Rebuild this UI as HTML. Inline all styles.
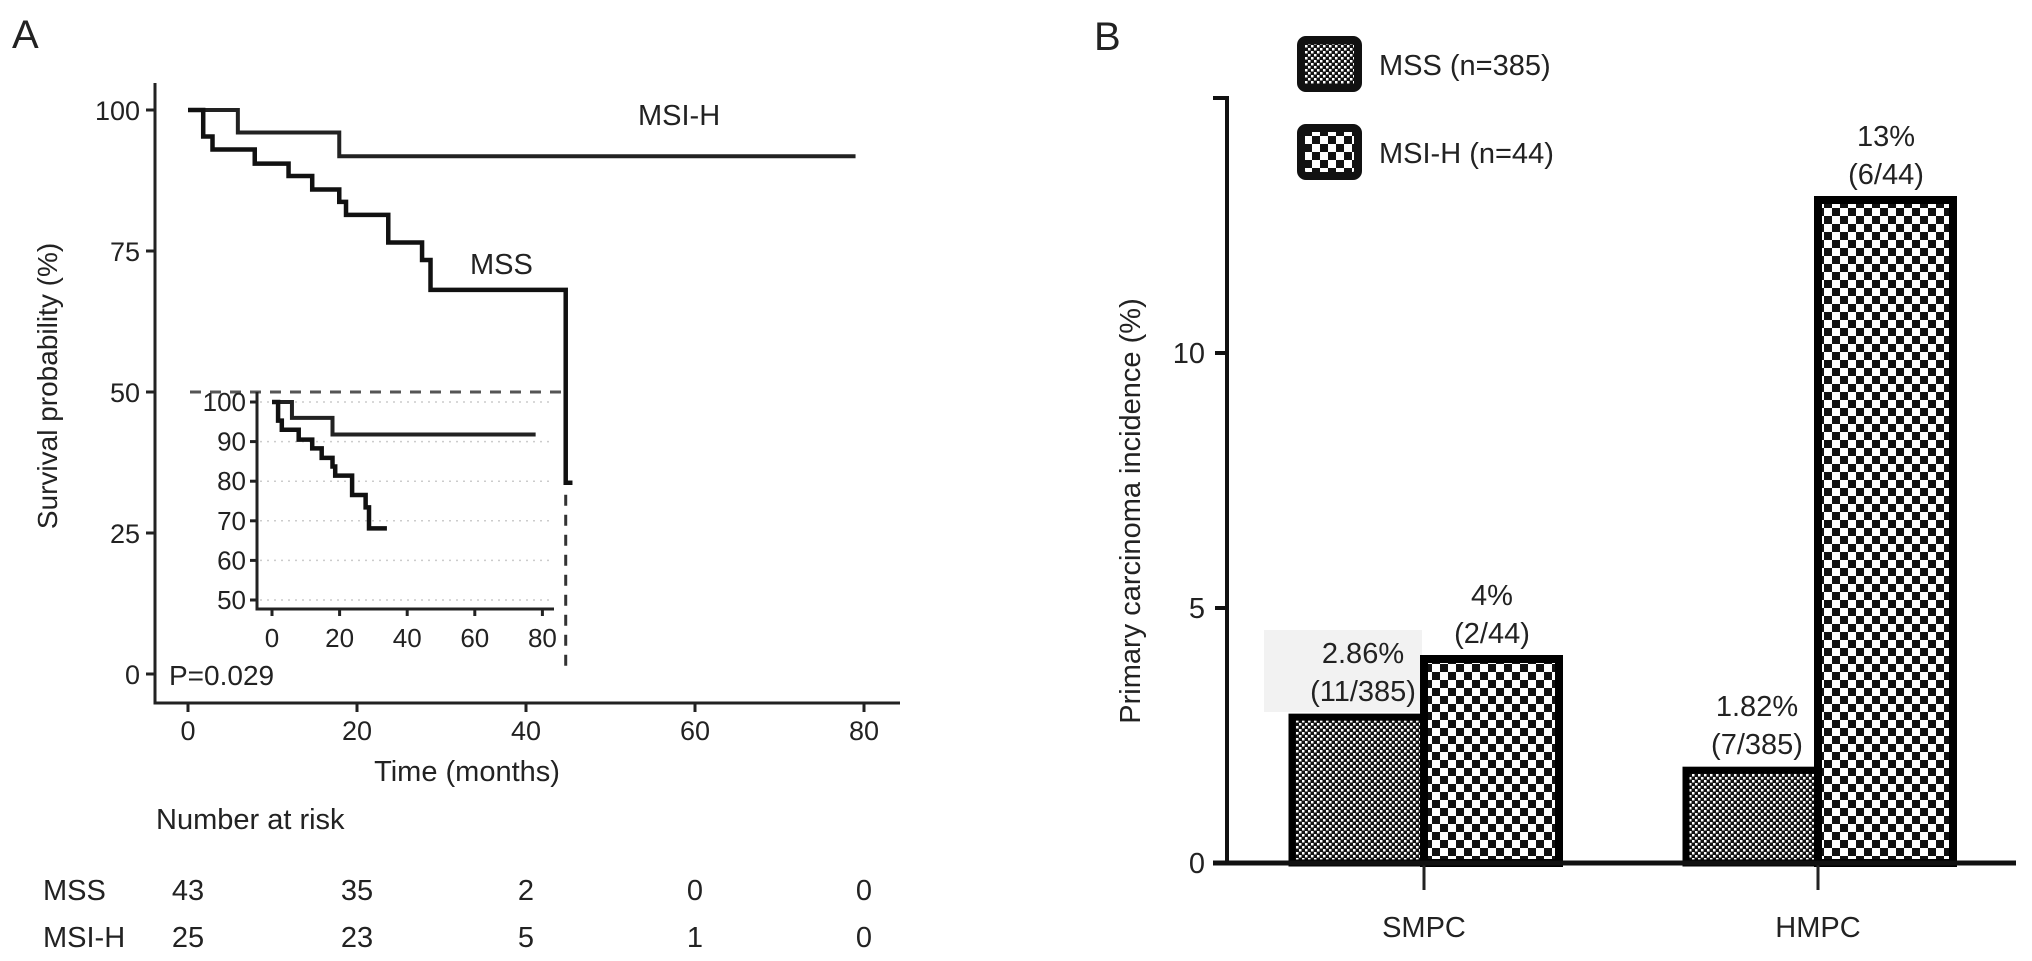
<!DOCTYPE html>
<html><head><meta charset="utf-8"><style>
html,body{margin:0;padding:0;background:#fff}
svg{display:block}
text{font-family:"Liberation Sans",Arial,sans-serif;fill:#222}
</style></head><body>
<svg id="c" width="2032" height="961" viewBox="0 0 2032 961" xmlns="http://www.w3.org/2000/svg">
<defs>
<pattern id="pMss" width="6" height="6" patternUnits="userSpaceOnUse">
<rect width="6" height="6" fill="#111"/><rect width="2.5" height="2.5" fill="#fff"/><rect x="3" y="3" width="2.5" height="2.5" fill="#fff"/>
</pattern>
<pattern id="pMsi" width="16" height="16" patternUnits="userSpaceOnUse">
<rect width="16" height="16" fill="#111"/><rect x="0" y="0" width="8" height="8" fill="#fff"/><rect x="8" y="8" width="8" height="8" fill="#fff"/>
</pattern>
</defs>
<g id="A"></g>
<g id="B"></g>
</svg>
<script>
// ---- Panel A data ----
const mssTimes=[0,1.8,2.9,7.9,11.9,14.7,17.9,18.7,23.7,27.7,28.7,44.7];
const mssSurv=[100,95.3,93.0,90.5,88.3,85.9,83.7,81.4,76.5,73.4,68.1,33.9];
const mssEnd=45.5;
const msiTimes=[0,5.9,17.9];
const msiSurv=[100,96.0,91.8];
const msiEnd=79;
const insetMssEnd=34;
const insetMsiEnd=78;
const xTicks=[0,20,40,60,80];
const yTicks=[0,25,50,75,100];
const insetYTicks=[50,60,70,80,90,100];
const insetXTicks=[0,20,40,60,80];
const riskGroups=["MSS","MSI-H"];
const riskMss=[43,35,2,0,0];
const riskMsi=[25,23,5,1,0];
// ---- Panel B data ----
const categories=["SMPC","HMPC"];
const mssVals=[2.86,1.82];
const msiVals=[4,13];
const mssLabels=[["2.86%","(11/385)"],["1.82%","(7/385)"]];
const msiLabels=[["4%","(2/44)"],["13%","(6/44)"]];
const bTicks=[0,5,10];

const NS="http://www.w3.org/2000/svg";
function mk(parent,tag,attrs,txt){const e=document.createElementNS(NS,tag);for(const k in attrs)e.setAttribute(k,attrs[k]);if(txt!==undefined)e.textContent=txt;parent.appendChild(e);return e;}
const A=document.getElementById('A'),B=document.getElementById('B');
const xA=t=>188+t*8.45, yA=s=>674-s*5.64;
const xI=t=>272+t*3.38, yI=s=>600-(s-50)*3.96;
function stepPath(ts,ss,end,fx,fy,minS){
  let d=`M${fx(ts[0])},${fy(ss[0])}`;
  for(let i=1;i<ts.length;i++){ if(minS!==undefined&&ss[i]<minS)break; d+=` H${fx(ts[i])} V${fy(ss[i])}`;}
  d+=` H${fx(end)}`;return d;}

let t;
t=mk(A,'text',{x:12,y:48,'font-size':40});t.textContent='A';


let ax=mk(A,'path',{d:'M155,83 V703 H900',fill:'none',stroke:'#222','stroke-width':3});


yTicks.forEach(v=>{
  mk(A,'line',{x1:146,x2:155,y1:yA(v),y2:yA(v),stroke:'#222','stroke-width':3});
  const l=mk(A,'text',{x:140,y:yA(v)+10,'font-size':27,'text-anchor':'end'},v);
  
  
});
xTicks.forEach(v=>{
  mk(A,'line',{x1:xA(v),x2:xA(v),y1:703,y2:712,stroke:'#222','stroke-width':3});
  const l=mk(A,'text',{x:xA(v),y:740,'font-size':27,'text-anchor':'middle'},v);
  
  
});
t=mk(A,'text',{x:467,y:781,'font-size':29,'text-anchor':'middle'},'Time (months)');


t=mk(A,'text',{x:0,y:0,'font-size':28,'text-anchor':'middle',transform:'translate(57,386) rotate(-90)'},'Survival probability (%)');


t=mk(A,'text',{x:169,y:685,'font-size':28},'P=0.029');


mk(A,'line',{x1:190,x2:xA(mssTimes[mssTimes.length-1]),y1:yA(50),y2:yA(50),stroke:'#555','stroke-width':3,'stroke-dasharray':'11 9'});
mk(A,'line',{x1:xA(mssTimes[mssTimes.length-1]),x2:xA(mssTimes[mssTimes.length-1]),y1:yA(mssSurv[mssSurv.length-1])+12,y2:yA(0),stroke:'#333','stroke-width':3,'stroke-dasharray':'11 9'});
let c=mk(A,'path',{d:stepPath(msiTimes,msiSurv,msiEnd,xA,yA),fill:'none',stroke:'#222','stroke-width':4});


c=mk(A,'path',{d:stepPath(mssTimes,mssSurv,mssEnd,xA,yA),fill:'none',stroke:'#111','stroke-width':4.5});


t=mk(A,'text',{x:638,y:125,'font-size':29},'MSI-H');


t=mk(A,'text',{x:470,y:274,'font-size':29},'MSS');


const I=mk(A,'g',{});


insetYTicks.forEach(v=>{
  mk(I,'line',{x1:260,x2:552,y1:yI(v),y2:yI(v),stroke:'#ccc','stroke-width':1.5,'stroke-dasharray':'2 5'});
  mk(I,'line',{x1:250,x2:257,y1:yI(v),y2:yI(v),stroke:'#222','stroke-width':3});
  const l=mk(I,'text',{x:246,y:yI(v)+9,'font-size':26,'text-anchor':'end'},v);
  
  
});
insetXTicks.forEach(v=>{
  mk(I,'line',{x1:xI(v),x2:xI(v),y1:609,y2:616,stroke:'#222','stroke-width':3});
  const l=mk(I,'text',{x:xI(v),y:647,'font-size':26,'text-anchor':'middle'},v);
  
  
});
mk(I,'path',{d:'M257,392 V609 H554',fill:'none',stroke:'#222','stroke-width':3});
mk(I,'path',{d:stepPath(msiTimes,msiSurv,insetMsiEnd,xI,yI),fill:'none',stroke:'#222','stroke-width':4});
mk(I,'path',{d:stepPath(mssTimes,mssSurv,insetMssEnd,xI,yI,50),fill:'none',stroke:'#111','stroke-width':4.5});
t=mk(A,'text',{x:156,y:829,'font-size':29},'Number at risk');


[riskMss,riskMsi].forEach((row,ri)=>{
  const y=ri?947:900;
  const g=mk(A,'text',{x:43,y:y,'font-size':29},riskGroups[ri]);
  
  
  row.forEach((v,i)=>{
    const e=mk(A,'text',{x:xA(xTicks[i]),y:y,'font-size':29,'text-anchor':'middle'},v);
    
    
  });
});

// ---- Panel B ----
const yB=v=>863-v*51;
const catX=i=>1424+i*394;
const bw=132;
t=mk(B,'text',{x:1094,y:50,'font-size':40},'B');


[["MSS (n=385)","url(#pMss)",37],["MSI-H (n=44)","url(#pMsi)",125]].forEach(([lab,f,y])=>{
  const r=mk(B,'rect',{x:1301,y:y+3,width:57,height:48,rx:5,fill:f,stroke:'#111','stroke-width':8});
  
  
  const tx=mk(B,'text',{x:1379,y:y+38,'font-size':29},lab);
  
  
});
mk(B,'rect',{x:1264,y:630,width:158,height:82,fill:'#f2f2f2'});
categories.forEach((cat,i)=>{
  const x0=catX(i);
  const b1=mk(B,'rect',{x:x0-bw,y:yB(mssVals[i]),width:bw,height:yB(0)-yB(mssVals[i]),fill:'url(#pMss)',stroke:'#000','stroke-width':7});
  
  
  const b2=mk(B,'rect',{x:x0,y:yB(msiVals[i]),width:bw+3,height:yB(0)-yB(msiVals[i]),fill:'url(#pMsi)',stroke:'#000','stroke-width':8});
  
  
  [[mssLabels[i],x0-bw/2+5,mssVals[i]],[msiLabels[i],x0+bw/2+2,msiVals[i]]].forEach(([ls,x,v])=>{
    const l1=mk(B,'text',{x:x,y:yB(v)-54,'font-size':29,'text-anchor':'middle'},ls[0]);
    
    
    const l2=mk(B,'text',{x:x,y:yB(v)-16,'font-size':29,'text-anchor':'middle'},ls[1]);
    
    
  });
  mk(B,'line',{x1:x0,x2:x0,y1:863,y2:890,stroke:'#222','stroke-width':3});
  const cl=mk(B,'text',{x:x0,y:937,'font-size':29,'text-anchor':'middle'},cat);
  
  
});
mk(B,'path',{d:'M1213,98 H1227 V863',fill:'none',stroke:'#111','stroke-width':4});
mk(B,'line',{x1:1213,x2:2016,y1:863,y2:863,stroke:'#111','stroke-width':5});
bTicks.forEach(v=>{
  mk(B,'line',{x1:1215,x2:1227,y1:yB(v),y2:yB(v),stroke:'#111','stroke-width':4});
  const l=mk(B,'text',{x:1205,y:yB(v)+10,'font-size':29,'text-anchor':'end'},v);
  
  
});
t=mk(B,'text',{x:0,y:0,'font-size':29,'text-anchor':'middle',transform:'translate(1140,511) rotate(-90)'},'Primary carcinoma incidence (%)');


</script>
</body></html>
